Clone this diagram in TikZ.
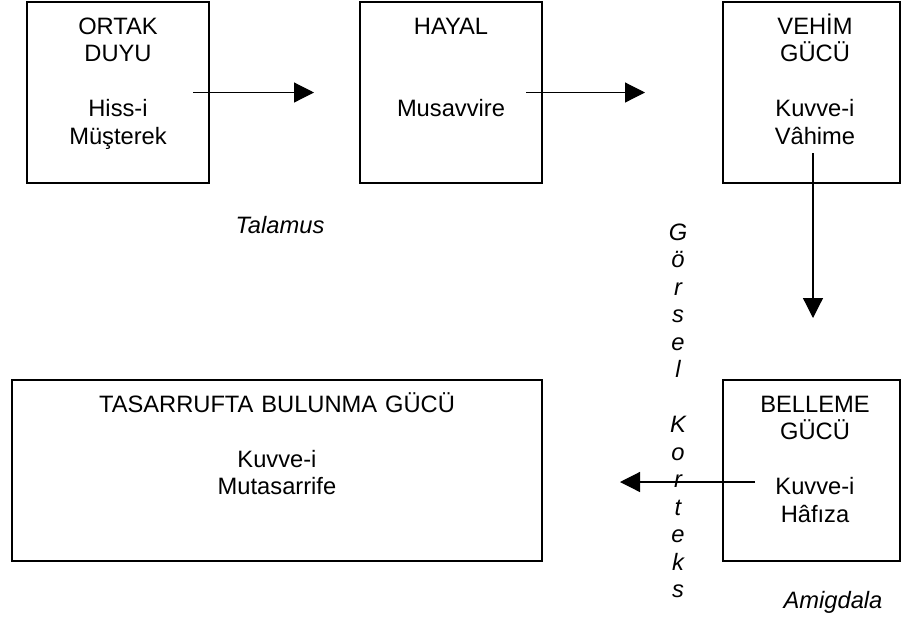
\documentclass[tikz,border=0pt]{standalone}
\usepackage{fontspec}
\setmainfont{Liberation Sans}
\usetikzlibrary{positioning,arrows.meta}
\tikzstyle{blockbox} = [rectangle, draw=black, line width=1pt, minimum width=91pt,
                        minimum height=90.5pt, inner sep=0pt, outer sep=0pt]
\tikzstyle{blocktext} = [
    text width=85pt,           % Wide enough for two words
    align=center,              % Centered lines
    inner sep=0pt,
    anchor=base,               % First baseline sits on the point
    font=\fontsize{11.85}{13.75}\selectfont
]
\tikzstyle{note} = [inner sep=0pt, anchor=base, font=\fontsize{11.85}{13.75}\selectfont\itshape]
\tikzstyle{arrow} = [line width=0.6pt, -{Triangle[length=10pt,width=10pt]}]

\begin{document}
\begin{tikzpicture}[x=0.5pt, y=-0.5pt]
	\useasboundingbox (0,0) rectangle (901,618);

		% Top row
		\node[blockbox, anchor=north west] (ortak) at (27,2) {};
		\node[blockbox, right=75.5pt of ortak] (hayal) {};
		\node[blockbox, right=90.5pt of hayal, minimum width=88.5pt] (vehim) {};

		% Bottom row
		\node[blockbox, below=98.5pt of vehim, minimum width=88.5pt] (belleme) {};
		\node[blockbox, left=90.5pt of belleme, minimum width=265pt] (tasarruf) {};

		% Box texts
		\node[blocktext] (ortak_txt) at ([yshift=-16pt]ortak.north) {ORTAK\\DUYU\\[\baselineskip]Hiss-i\\Müşterek};
		\node[blocktext] (hayal_txt) at ([yshift=-16pt]hayal.north) {HAYAL\\[2\baselineskip]Musavvire};
		\node[blocktext] (vehim_txt) at ([xshift=1.75pt, yshift=-16pt]vehim.north) {VEHİM\\GÜCÜ\\[\baselineskip]Kuvve-i\\Vâhime};
		\node[blocktext] (belleme_txt) at ([xshift=1.75pt, yshift=-16pt]belleme.north) {BELLEME\\GÜCÜ\\[\baselineskip]Kuvve-i\\Hâfıza};
		\node[blocktext, text width=250pt] (tasarruf_txt) at ([yshift=-16pt]tasarruf.north) {TASARRUFTA BULUNMA GÜCÜ\\[\baselineskip]Kuvve-i\\Mutasarrife};

		% Region names
		\node[note] (talamus) at (280,233) {Talamus};
		\node[note, text width=12pt, align=center] (korteks) at (678,240) {G\\ö\\r\\s\\e\\l\\[\baselineskip]K\\o\\r\\t\\e\\k\\s};
		\node[note] (amigdala) at (833,608) {Amigdala};

		% Arrows
		\draw[arrow] ([xshift=-8pt]ortak.east) -- ([xshift=-23pt]hayal.west);
		\draw[arrow] ([xshift=-8pt]hayal.east) -- ([xshift=-39pt]vehim.west);
		\draw[arrow] ([xshift=0.75pt, yshift=15pt]vehim.south) -- ([xshift=0.75pt, yshift=31pt]belleme.north);
		\draw[arrow] ([xshift=16pt, yshift=-5.75pt]belleme.west) -- ([xshift=39pt, yshift=-5.75pt]tasarruf.east);
	\end{tikzpicture}
\end{document}
